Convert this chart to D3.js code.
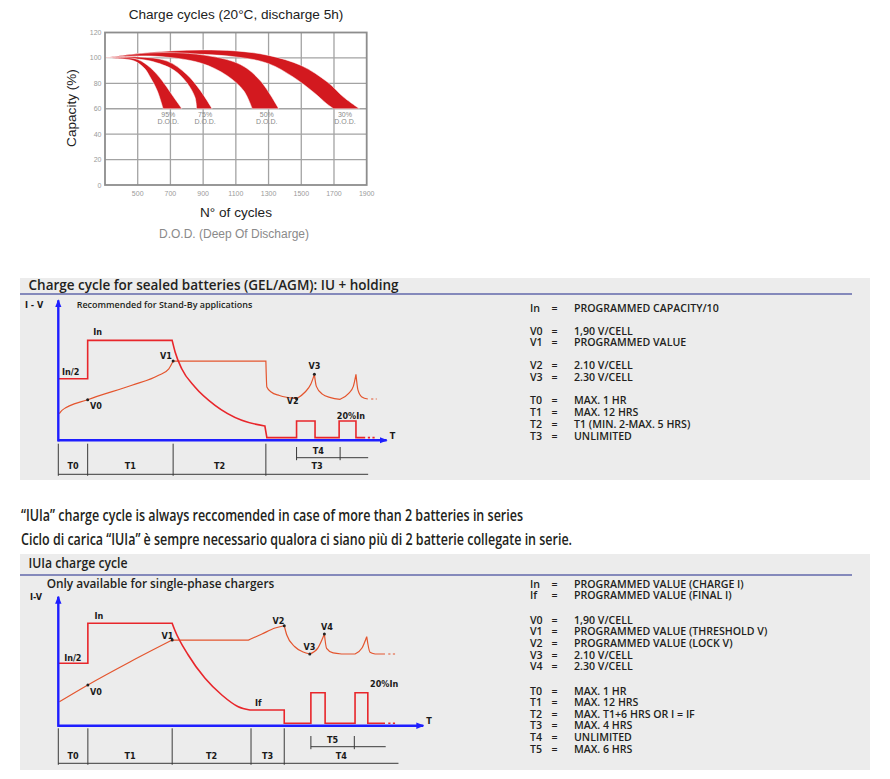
<!DOCTYPE html>
<html>
<head>
<meta charset="utf-8">
<script src="https://cdn.jsdelivr.net/npm/d3@7/dist/d3.min.js"></script>
<style>
  body { margin: 0; background: #fff; }
  svg { display: block; }
  .sans { font-family: "Liberation Sans", Arial, sans-serif; }
  .my { font-family: "Open Sans", "Noto Sans", sans-serif; font-weight: 600; fill: #231f20; }
  .nb { font-family: "Liberation Sans Narrow", "DejaVu Sans Condensed", sans-serif; font-weight: bold; fill: #1a1a1a; }
</style>
</head>
<body>
<svg id="page" width="890" height="779"></svg>
<script>
// ---- cycle life chart ----
var cycleTicks = [500, 700, 900, 1100, 1300, 1500, 1700, 1900];
var capacityTicks = [0, 20, 40, 60, 80, 100, 120];
var dodNames = ["95%", "75%", "50%", "30%"];
var dodLabelCycles = [687, 912, 1289, 1767];
var dodOuter = [
  [[300,100],[400,100.3],[500,98.8],[580,92],[650,82],[710,71],[770,60]],
  [[300,100],[500,100.8],[680,97.5],[800,87],[885,74],[955,60]],
  [[300,100],[578,104],[884,102.6],[1128,94.8],[1250,82],[1362,60]],
  [[300,100],[500,103.5],[700,105.5],[900,106.3],[1100,105.5],[1300,102],[1500,94],[1660,81],[1760,69],[1856,60]]
];
var dodInner = [
  [[300,100],[400,99.3],[480,97.5],[540,92],[580,84],[620,74],[655,60]],
  [[300,100],[450,99.5],[580,97.5],[720,90.5],[800,80.5],[850,69],[860,60]],
  [[300,100],[578,101.5],[884,96],[1047,86],[1149,74],[1200,60]],
  [[300,100],[500,102],[700,103.4],[1100,100.8],[1300,95.5],[1450,85],[1575,73],[1655,64],[1698,60]]
];

// ---- IU + holding diagram (time and level in % of the axes) ----
var iuCurrent = [
  {smooth: false, pts: [[0,44],[8.9,44],[8.9,71.4],[34.5,71.4]]},
  {smooth: true,  pts: [[34.5,71.4],[35.4,63.1],[37.4,51.1],[41.4,38.1],[47.5,25],[55.6,14.3],[62.6,10.2]]},
  {smooth: false, pts: [[62.6,10.2],[63.2,1.9],[72.2,1.9],[72.2,13.8],[77.8,13.8],[77.8,1.9],[85.1,1.9],
                        [85.1,13.8],[90.2,13.8],[90.2,1.9],[93,1.9]]}
];
var iuCurrentTail = [[93.8,1.9],[96.5,1.9]];
var iuVoltage = [
  {smooth: true,  pts: [[0.3,19],[1.1,21.4],[8.9,29],[22.3,39.3],[30.4,46.4],[33.5,51.1],[34.8,56.6]]},
  {smooth: false, pts: [[34.8,56.6],[62.9,56.6]]},
  {smooth: true,  pts: [[62.9,56.6],[63.2,38],[64.5,34.5],[67,32],[72.2,29.7]]},
  {smooth: true,  pts: [[72.2,29.7],[74.8,34.5],[76.5,40],[77.6,47.1]]},
  {smooth: true,  pts: [[77.6,47.1],[78.2,38.5],[80,33],[82.5,30.5],[85.4,29.3]]},
  {smooth: true,  pts: [[85.4,29.3],[88,33.5],[89.4,38.5],[90.2,47.1]]},
  {smooth: true,  pts: [[90.2,47.1],[90.8,36],[92,31],[93.8,29.5]]}
];
var iuVoltageTail = [[94.8,29.5],[96.5,29.5]];
var iuDots = [[8.9,29],[34.8,56.6],[72.2,29.7],[77.6,47.1]];
var iuLabels = [["In",10.6,75],["In/2",1.1,46.4],["V1",30.8,58.1],["V0",9.6,22.1],
                ["V2",69.2,26],["V3",75.8,51.1],["20%In",84.4,15]];
var iuPhases = [0, 8.9, 34.8, 62.9, 93.9];
var iuPhaseNames = ["T0", "T1", "T2", "T3"];
var iuSub = [72.2, 85.4, 93.9];
var iuSubName = "T4";
var iuDefs = [
  [["In", "PROGRAMMED CAPACITY/10"]],
  [["V0", "1,90 V/CELL"], ["V1", "PROGRAMMED VALUE"]],
  [["V2", "2.10 V/CELL"], ["V3", "2.30 V/CELL"]],
  [["T0", "MAX. 1 HR"], ["T1", "MAX. 12 HRS"], ["T2", "T1 (MIN. 2-MAX. 5 HRS)"], ["T3", "UNLIMITED"]]
];

// ---- IUIa diagram ----
var iuiaCurrent = [
  {smooth: false, pts: [[0,48.4],[8.1,48.4],[8.1,79.4],[31.2,79.4]]},
  {smooth: true,  pts: [[31.2,79.4],[31.9,74.2],[35.6,54.8],[40.2,36.7],[44.8,23.8],[49.3,14.7],[52.5,12.2]]},
  {smooth: false, pts: [[52.5,12.2],[61.9,12.2],[61.9,1.9],[69.2,1.9],[69.2,25.6],[73.1,25.6],[73.1,1.9],
                        [81.3,1.9],[81.3,25.6],[84.8,25.6],[84.8,1.9],[89.5,1.9]]}
];
var iuiaCurrentTail = [[90.4,1.9],[92.7,1.9]];
var iuiaVoltage = [
  {smooth: true,  pts: [[0.3,18.6],[8.1,31.6],[19.6,49.4],[31.2,66.4]]},
  {smooth: false, pts: [[31.2,66.4],[52.1,66.4]]},
  {smooth: true,  pts: [[52.1,66.4],[55.8,71.1],[59.4,75.7],[61.9,77.5]]},
  {smooth: true,  pts: [[61.9,77.5],[62.6,70.3],[64.8,61.2],[67.1,57.1],[68.9,55.6]]},
  {smooth: true,  pts: [[68.9,55.6],[71.1,60.2],[72.9,71.1]]},
  {smooth: true,  pts: [[72.9,71.1],[73.5,60],[75.3,56.4],[77.6,55.6]]},
  {smooth: false, pts: [[77.6,55.6],[81.3,55.6]]},
  {smooth: true,  pts: [[81.3,55.6],[83.2,60.2],[84.5,69]]},
  {smooth: true,  pts: [[84.5,69],[85.4,56.9],[86.8,55.6]]},
  {smooth: false, pts: [[86.8,55.6],[89.5,55.6]]}
];
var iuiaVoltageTail = [[90.4,55.6],[92.7,55.6]];
var iuiaDots = [[8.1,31.6],[31.2,66.4],[61.9,77.5],[68.9,55.6],[72.9,71.1]];
var iuiaLabels = [["In",9.9,82.7],["In/2",1.6,50.2],["V1",28.3,67.2],["V0",8.7,23.8],["V2",58.7,78.8],
                  ["V4",72,74.2],["V3",67.2,58.7],["If",53.9,15.5],["20%In",85.4,30.2]];
var iuiaPhases = [0, 8.1, 31.2, 52.8, 61.9, 93.2];
var iuiaPhaseNames = ["T0", "T1", "T2", "T3", "T4"];
var iuiaSub = [69.2, 81.1, 89.7];
var iuiaSubName = "T5";
var iuiaDefs = [
  [["In", "PROGRAMMED VALUE (CHARGE I)"], ["If", "PROGRAMMED VALUE (FINAL I)"]],
  [["V0", "1,90 V/CELL"], ["V1", "PROGRAMMED VALUE (THRESHOLD V)"], ["V2", "PROGRAMMED VALUE (LOCK V)"],
   ["V3", "2.10 V/CELL"], ["V4", "2.30 V/CELL"]],
  [["T0", "MAX. 1 HR"], ["T1", "MAX. 12 HRS"], ["T2", "MAX. T1+6 HRS OR I = IF"], ["T3", "MAX. 4 HRS"],
   ["T4", "UNLIMITED"], ["T5", "MAX. 6 HRS"]]
];

var svg = d3.select("#page");
var blue = "#1e1eff";

svg.append("defs").append("marker")
  .attr("id", "arr")
  .attr("viewBox", "0 0 8 8")
  .attr("refX", 7).attr("refY", 4)
  .attr("markerWidth", 8).attr("markerHeight", 8)
  .attr("markerUnits", "userSpaceOnUse")
  .attr("orient", "auto")
  .append("path").attr("d", "M0,0.8L8,4L0,7.2Z").attr("fill", blue);

// ================= cycle life chart =================
var cx = d3.scaleLinear().domain([300, 1900]).range([105, 366.7]);
var cy = d3.scaleLinear().domain([0, 120]).range([185, 32.5]);
var chart = svg.append("g").attr("class", "sans");

chart.append("rect")
  .attr("x", cx(300)).attr("y", cy(120))
  .attr("width", cx(1900) - cx(300)).attr("height", cy(0) - cy(120))
  .attr("fill", "#fff");

chart.selectAll("line.vg").data(cycleTicks.slice(0, -1)).enter().append("line")
  .attr("x1", cx).attr("x2", cx).attr("y1", cy(0)).attr("y2", cy(120))
  .attr("stroke", "#a3a3a3").attr("stroke-width", 1.3);

chart.selectAll("line.hg").data(capacityTicks.slice(1, -1)).enter().append("line")
  .attr("x1", cx(300)).attr("x2", cx(1900)).attr("y1", cy).attr("y2", cy)
  .attr("stroke", "#a3a3a3").attr("stroke-width", 1.3);

var edge = d3.line().curve(d3.curveCatmullRom.alpha(0.5))
  .x(function(d) { return cx(d[0]); })
  .y(function(d) { return cy(d[1]); });

chart.selectAll("path.band").data(d3.range(dodNames.length).reverse()).enter().append("path")
  .attr("d", function(i) {
    return edge(dodOuter[i]) + edge(dodInner[i].slice().reverse()).replace(/^M/, "L") + "Z";
  })
  .attr("fill", "#d3191f").attr("stroke", "#fff").attr("stroke-width", 0.5);

chart.append("rect")
  .attr("x", cx(300)).attr("y", cy(120))
  .attr("width", cx(1900) - cx(300)).attr("height", cy(0) - cy(120))
  .attr("fill", "none").attr("stroke", "#8d8d8d").attr("stroke-width", 1.8);

chart.selectAll("text.yt").data(capacityTicks).enter().append("text")
  .attr("x", cx(300) - 3.5).attr("y", function(d) { return cy(d) + 2.5; })
  .attr("text-anchor", "end").attr("font-size", 7).attr("fill", "#9a9a9a")
  .text(function(d) { return d; });

chart.selectAll("text.xt").data(cycleTicks).enter().append("text")
  .attr("x", cx).attr("y", cy(0) + 11)
  .attr("text-anchor", "middle").attr("font-size", 7).attr("fill", "#9a9a9a")
  .text(function(d) { return d; });

var dl = chart.selectAll("g.dod").data(dodNames).enter().append("g")
  .attr("transform", function(d, i) { return "translate(" + [cx(dodLabelCycles[i]), cy(60)] + ")"; })
  .attr("font-size", 7).attr("fill", "#8a8a8a").attr("text-anchor", "middle");
dl.append("text").attr("y", 8.5).text(function(d) { return d; });
dl.append("text").attr("y", 15.5).text("D.O.D.");

chart.append("text").attr("x", 236).attr("y", 18.5).attr("text-anchor", "middle")
  .attr("font-size", 13.6).attr("fill", "#222").text("Charge cycles (20°C, discharge 5h)");
chart.append("text").attr("transform", "translate(76,108) rotate(-90)").attr("text-anchor", "middle")
  .attr("font-size", 13.6).attr("fill", "#222").text("Capacity (%)");
chart.append("text").attr("x", 236).attr("y", 217).attr("text-anchor", "middle")
  .attr("font-size", 13.6).attr("fill", "#222").text("N° of cycles");
chart.append("text").attr("x", 234).attr("y", 237.5).attr("text-anchor", "middle")
  .attr("font-size", 12).attr("fill", "#8a8a8a").text("D.O.D. (Deep Of Discharge)");

// ================= panels =================
function panel(y0, y1, lineY, title, titleY, titleW) {
  svg.append("rect").attr("x", 20).attr("y", y0).attr("width", 850).attr("height", y1 - y0).attr("fill", "#ececec");
  svg.append("line").attr("x1", 20).attr("x2", 852).attr("y1", lineY).attr("y2", lineY)
    .attr("stroke", "#8489bb").attr("stroke-width", 2);
  svg.append("text").attr("class", "my").attr("x", 28.5).attr("y", titleY)
    .attr("font-size", 14.5).attr("textLength", titleW).attr("lengthAdjust", "spacingAndGlyphs")
    .text(title);
}

function defsBlock(groups, y0, row, gap) {
  var g = svg.append("g").attr("class", "my").attr("font-size", 10.6);
  var y = y0;
  groups.forEach(function(grp, gi) {
    if (gi) y += gap;
    grp.forEach(function(r) {
      g.append("text").attr("x", 530).attr("y", y).text(r[0]);
      g.append("text").attr("x", 551.5).attr("y", y).text("=");
      g.append("text").attr("x", 574).attr("y", y).text(r[1]);
      y += row;
    });
  });
}

function drawCycle(c) {
  var g = svg.append("g");
  var x = d3.scaleLinear().domain([0, 100]).range(c.xr);
  var y = d3.scaleLinear().domain([0, 100]).range(c.yr);
  var lin = d3.line().x(function(d) { return x(d[0]); }).y(function(d) { return y(d[1]); });
  var smooth = d3.line().curve(d3.curveMonotoneX).x(function(d) { return x(d[0]); }).y(function(d) { return y(d[1]); });
  function segPath(segs) {
    return segs.map(function(s, i) {
      var p = (s.smooth ? smooth : lin)(s.pts);
      return i ? p.replace(/^M/, "L") : p;
    }).join("");
  }

  // curves
  g.append("path").attr("d", segPath(c.voltage)).attr("fill", "none")
    .attr("stroke", "#e4552e").attr("stroke-width", 1.2);
  g.append("path").attr("d", lin(c.voltageTail)).attr("fill", "none")
    .attr("stroke", "#e4552e").attr("stroke-width", 1.2).attr("stroke-dasharray", "2.2,2.4");
  g.append("path").attr("d", segPath(c.current)).attr("fill", "none")
    .attr("stroke", "#e8262b").attr("stroke-width", 1.6).attr("stroke-linejoin", "miter");
  g.append("path").attr("d", lin(c.currentTail)).attr("fill", "none")
    .attr("stroke", "#e8262b").attr("stroke-width", 1.6).attr("stroke-dasharray", "2.2,2.4");

  g.selectAll("circle").data(c.dots).enter().append("circle")
    .attr("cx", function(d) { return x(d[0]); }).attr("cy", function(d) { return y(d[1]); })
    .attr("r", 1.5).attr("fill", "#222");

  // axes
  g.append("line").attr("x1", x(0)).attr("x2", x(c.xEnd)).attr("y1", y(0)).attr("y2", y(0))
    .attr("stroke", blue).attr("stroke-width", 2.4).attr("marker-end", "url(#arr)");
  g.append("line").attr("x1", x(0)).attr("x2", x(0)).attr("y1", y(0) + 1.2).attr("y2", y(100))
    .attr("stroke", blue).attr("stroke-width", 2.4).attr("marker-end", "url(#arr)");

  var t = g.append("g").attr("class", "nb").attr("font-size", 9);
  t.selectAll("text.lab").data(c.labels).enter().append("text")
    .attr("x", function(d) { return x(d[1]); }).attr("y", function(d) { return y(d[2]); })
    .text(function(d) { return d[0]; });
  t.append("text").attr("x", c.ivX).attr("y", c.ivY).text(c.ivText);
  t.append("text").attr("x", x(c.xEnd) + 3).attr("y", y(0) - 1.8).text("T");

  // phase timeline
  var base = y(0);
  var tl = g.append("g").attr("stroke", "#3a3a3a").attr("stroke-width", 1);
  var ph = c.phases;
  tl.append("line").attr("x1", x(ph[0])).attr("x2", x(ph[ph.length - 1]))
    .attr("y1", base + c.mainY).attr("y2", base + c.mainY);
  tl.selectAll("line.tk").data(ph.slice(0, -1)).enter().append("line")
    .attr("x1", x).attr("x2", x).attr("y1", base + c.tickTop).attr("y2", base + c.mainY + 1.5);
  tl.append("line").attr("x1", x(c.sub[0])).attr("x2", x(c.sub[2]))
    .attr("y1", base + c.subY).attr("y2", base + c.subY);
  tl.selectAll("line.st").data(c.sub.slice(0, 2)).enter().append("line")
    .attr("x1", x).attr("x2", x).attr("y1", base + c.subTop).attr("y2", base + c.subY + 2.5);

  t.selectAll("text.ph").data(c.phaseNames).enter().append("text")
    .attr("x", function(d, i) { return (x(ph[i]) + x(ph[i + 1])) / 2; })
    .attr("y", base + c.labY).attr("text-anchor", "middle")
    .text(function(d) { return d; });
  t.append("text").attr("x", (x(c.sub[0]) + x(c.sub[1])) / 2).attr("y", base + c.subLabY)
    .attr("text-anchor", "middle").text(c.subName);
}

// ---- IU + holding ----
panel(278, 480, 294, "Charge cycle for sealed batteries (GEL/AGM): IU + holding", 290.3, 370);
svg.append("text").attr("class", "my").attr("x", 76.7).attr("y", 307.5).attr("font-size", 9.2)
  .attr("textLength", 175.6).attr("lengthAdjust", "spacingAndGlyphs")
  .text("Recommended for Stand-By applications");
drawCycle({
  xr: [58.3, 388.3], yr: [440.3, 300.3], xEnd: 99.5,
  current: iuCurrent, currentTail: iuCurrentTail,
  voltage: iuVoltage, voltageTail: iuVoltageTail,
  dots: iuDots, labels: iuLabels,
  ivText: "I - V", ivX: 25, ivY: 307.7,
  phases: iuPhases, phaseNames: iuPhaseNames, sub: iuSub, subName: iuSubName,
  mainY: 34, tickTop: 3.4, labY: 28.7, subY: 17.4, subTop: 6.7, subLabY: 13.4
});
defsBlock(iuDefs, 311.6, 11.8, 11.2);

// ---- explanatory lines ----
svg.append("text").attr("class", "my").attr("x", 21).attr("y", 521).attr("font-size", 15.5)
  .attr("textLength", 502).attr("lengthAdjust", "spacingAndGlyphs")
  .text("“IUIa” charge cycle is always reccomended in case of more than 2 batteries in series");
svg.append("text").attr("class", "my").attr("x", 21).attr("y", 545).attr("font-size", 15.5)
  .attr("textLength", 551).attr("lengthAdjust", "spacingAndGlyphs")
  .text("Ciclo di carica “IUIa” è sempre necessario qualora ci siano più di 2 batterie collegate in serie.");

// ---- IUIa ----
panel(554, 770, 575, "IUIa charge cycle", 568.3, 99);
svg.append("text").attr("class", "my").attr("x", 46.7).attr("y", 588.3).attr("font-size", 12.5)
  .attr("textLength", 227.6).attr("lengthAdjust", "spacingAndGlyphs")
  .text("Only available for single-phase chargers");
drawCycle({
  xr: [58.3, 423.3], yr: [725.7, 596.7], xEnd: 100,
  current: iuiaCurrent, currentTail: iuiaCurrentTail,
  voltage: iuiaVoltage, voltageTail: iuiaVoltageTail,
  dots: iuiaDots, labels: iuiaLabels,
  ivText: "I-V", ivX: 30, ivY: 600,
  phases: iuiaPhases, phaseNames: iuiaPhaseNames, sub: iuiaSub, subName: iuiaSubName,
  mainY: 37.6, tickTop: 2.6, labY: 33.3, subY: 21, subTop: 10.3, subLabY: 17
});
defsBlock(iuiaDefs, 587.7, 11.6, 12.8);
</script>
</body>
</html>
